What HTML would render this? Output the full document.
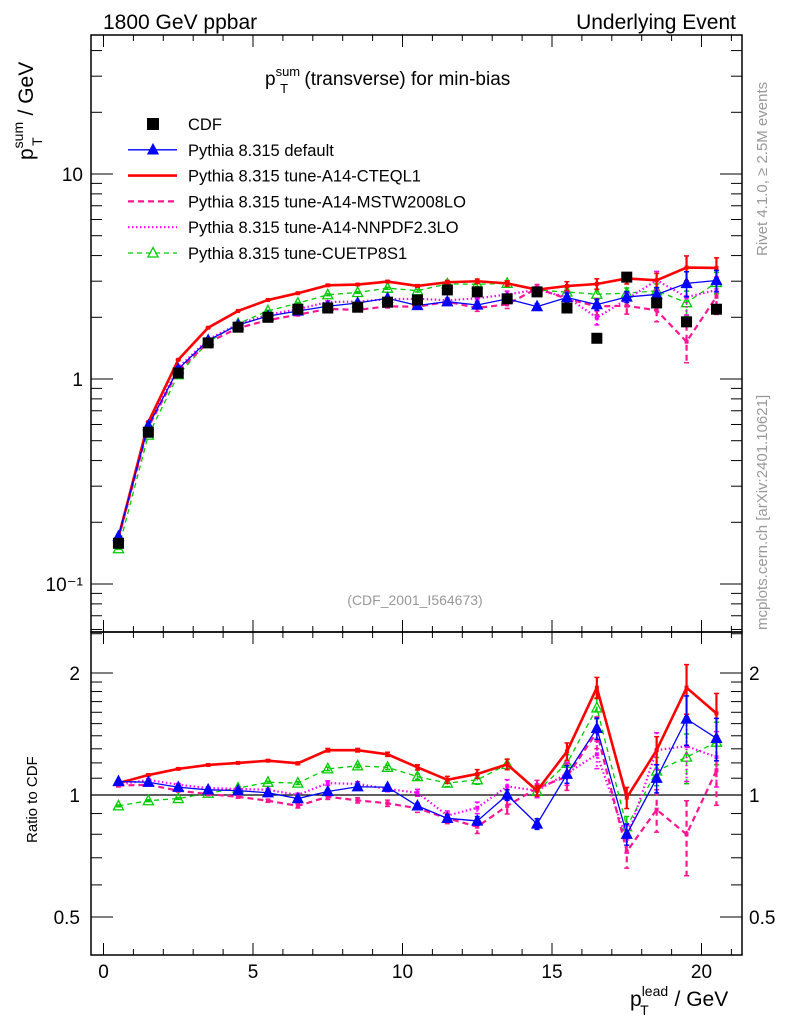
<!DOCTYPE html>
<html><head><meta charset="utf-8"><style>
body{margin:0;background:#fff;}
svg{display:block;font-family:"Liberation Sans",sans-serif;}
</style></head><body>
<svg id="c" width="786" height="1024" viewBox="0 0 786 1024" xmlns="http://www.w3.org/2000/svg"></svg>
<script>
const xCenters=[0.5,1.5,2.5,3.5,4.5,5.5,6.5,7.5,8.5,9.5,10.5,11.5,12.5,13.5,14.5,15.5,16.5,17.5,18.5,19.5,20.5];
const cdfValues=[0.158,0.55,1.07,1.50,1.79,2.0,2.19,2.22,2.24,2.37,2.43,2.72,2.66,2.46,2.66,2.22,1.58,3.14,2.35,1.90,2.19];
const ratioDefault=[1.08,1.075,1.045,1.03,1.025,1.013,0.98,1.02,1.048,1.045,0.94,0.876,0.863,1.0,0.848,1.125,1.46,0.80,1.10,1.54,1.38];
const ratioCTEQ=[1.07,1.12,1.16,1.186,1.20,1.215,1.197,1.29,1.29,1.26,1.17,1.09,1.127,1.19,1.025,1.28,1.84,0.985,1.29,1.84,1.59];
const ratioMSTW=[1.055,1.06,1.025,1.005,0.99,0.968,0.94,0.99,0.97,0.954,0.927,0.876,0.835,0.94,1.04,1.11,1.43,0.725,0.92,0.80,1.15];
const ratioNNPDF=[1.06,1.09,1.06,1.04,1.035,1.03,1.0,1.07,1.065,1.035,1.013,0.89,0.93,1.05,1.025,1.13,1.26,0.78,1.29,1.32,1.24];
const ratioCUETP=[0.94,0.968,0.98,1.01,1.04,1.075,1.07,1.16,1.18,1.17,1.11,1.07,1.09,1.19,1.02,1.197,1.64,0.835,1.146,1.24,1.35];
const relErr=[0.005,0.005,0.005,0.005,0.005,0.006,0.008,0.01,0.01,0.012,0.015,0.02,0.025,0.03,0.03,0.05,0.06,0.06,0.08,0.14,0.12];
const mainTicks=[0.1,1,10];
const mainTickLabels=["10\u207B\u00B9","1","10"];
const ratioTicks=[0.5,1,2];
const ratioTickLabels=["0.5","1","2"];
const xTicks=[0,5,10,15,20];

const NS="http://www.w3.org/2000/svg";
const svg=document.getElementById('c');
const L=91,R=742,T=35,M=632,B=955;
const X=v=>103.5+v*29.9;
const Ym=v=>379-205*Math.log10(v);
const Yr=v=>795-122*Math.log2(v);
function el(tag,attrs,parent){const e=document.createElementNS(NS,tag);for(const k in attrs)e.setAttribute(k,attrs[k]);(parent||svg).appendChild(e);return e;}
function txt(s,attrs,parent){const e=el('text',attrs,parent);e.textContent=s;return e;}

const defs=el('defs',{});
const cp1=el('clipPath',{id:'cm'},defs);el('rect',{x:L,y:T,width:R-L,height:M-T},cp1);
const cp2=el('clipPath',{id:'cr'},defs);el('rect',{x:L,y:M,width:R-L,height:B-M},cp2);

const fm=el('rect',{x:L,y:T,width:R-L,height:M-T,fill:'none',stroke:'#000','stroke-width':1.5});


const fr=el('rect',{x:L,y:M,width:R-L,height:B-M,fill:'none',stroke:'#000','stroke-width':1.5});



const gx=el('g',{stroke:'#000','stroke-width':1});


for(let v=0;v<=21;v++){const x=X(v);const len=(v%5==0)?12:6;
 [[T,T+len],[M,M-len],[M,M+len],[B,B-len]].forEach(p=>el('line',{x1:x,x2:x,y1:p[0],y2:p[1]},gx));}
xTicks.forEach(v=>{const t=txt(String(v),{x:X(v),y:978,'font-size':19,'text-anchor':'middle'});
 
 });

const gy=el('g',{stroke:'#000','stroke-width':1});


for(let d=-2;d<=1;d++){for(let k=1;k<10;k++){const v=k*Math.pow(10,d);const y=Ym(v);if(y<T||y>M)continue;
 const len=k==1?22:11;el('line',{x1:L,x2:L+len,y1:y,y2:y},gy);el('line',{x1:R,x2:R-len,y1:y,y2:y},gy);}}
mainTicks.forEach((v,i)=>{const t=txt(mainTickLabels[i],{x:83,y:Ym(v)+7,'font-size':19,'text-anchor':'end'});
 
 });
[0.4,0.5,0.6,0.7,0.8,0.9,1,1.1,1.2,1.3,1.4,1.5,1.6,1.7,1.8,1.9,2,2.5].forEach(v=>{const y=Yr(v);if(y<M||y>B)return;
 const len=(v==0.5||v==1||v==2)?22:11;el('line',{x1:L,x2:L+len,y1:y,y2:y},gy);el('line',{x1:R,x2:R-len,y1:y,y2:y},gy);});
ratioTicks.forEach((v,i)=>{
 const t=txt(ratioTickLabels[i],{x:80,y:Yr(v)+7,'font-size':19,'text-anchor':'end'});
 
 
 const t2=txt(ratioTickLabels[i],{x:749,y:Yr(v)+7,'font-size':19,'text-anchor':'start'});
 
 });
const one=el('line',{x1:L,x2:R,y1:Yr(1),y2:Yr(1),stroke:'#000','stroke-width':1.2});



const series=[
 {name:'pythia-a14-cuetp8s1',r:ratioCUETP,color:'#00cc00',w:1.3,dash:'5,4',marker:'tri-open',ef:1},
 {name:'pythia-a14-nnpdf',r:ratioNNPDF,color:'#ff00ff',w:2.2,dash:'1.5,2.5',marker:null,ef:1.3},
 {name:'pythia-a14-mstw',r:ratioMSTW,color:'#ff1493',w:2.2,dash:'6,4',marker:null,ef:1.5},
 {name:'pythia-a14-cteql1',r:ratioCTEQ,color:'#ff0000',w:2.6,dash:null,marker:null,ef:1},
 {name:'pythia-default',r:ratioDefault,color:'#0000ff',w:1.3,dash:null,marker:'tri',ef:1}];
function tri(g,x,y,c,open){el('polygon',{points:`${x},${y-5.5} ${x-5},${y+4} ${x+5},${y+4}`,fill:open?'none':c,stroke:c,'stroke-width':1.3},g);}
series.forEach(s=>{
 const vals=s.r.map((r,i)=>r*cdfValues[i]);
 [['m',vals,Ym,'cm'],['r',s.r,Yr,'cr']].forEach(([p,arr,Y,clip])=>{
  const g=el('g',{'clip-path':`url(#${clip})`});
  
  
  const pts=arr.map((v,i)=>X(xCenters[i])+','+Y(v)).join(' ');
  const a={points:pts,fill:'none',stroke:s.color,'stroke-width':s.w};if(s.dash)a['stroke-dasharray']=s.dash;
  el('polyline',a,g);
  arr.forEach((v,i)=>{const x=X(xCenters[i]);const e=relErr[i]*s.ef;
   const y1=Y(v*(1+e)),y2=Y(v*(1-e));
   const ea={x1:x,x2:x,y1:y1,y2:y2,stroke:s.color,'stroke-width':s.w>2?2.2:1.5};if(s.dash)ea['stroke-dasharray']=s.dash;
   el('line',ea,g);
   el('line',{x1:x-2.5,x2:x+2.5,y1:y1,y2:y1,stroke:s.color,'stroke-width':1.5},g);
   el('line',{x1:x-2.5,x2:x+2.5,y1:y2,y2:y2,stroke:s.color,'stroke-width':1.5},g);
   if(s.marker)tri(g,x,Y(v),s.color,s.marker=='tri-open');
   else el('rect',{x:x-2,y:Y(v)-2,width:4,height:4,fill:s.color},g);});
 });
});
const gd=el('g',{'clip-path':'url(#cm)'});


cdfValues.forEach((v,i)=>{const x=X(xCenters[i]);el('rect',{x:x-5.5,y:Ym(v)-5.5,width:11,height:11,fill:'#000'},gd);});

const lg=el('g',{});


const leg=[['CDF',null],['Pythia 8.315 default',series[4]],['Pythia 8.315 tune-A14-CTEQL1',series[3]],['Pythia 8.315 tune-A14-MSTW2008LO',series[2]],['Pythia 8.315 tune-A14-NNPDF2.3LO',series[1]],['Pythia 8.315 tune-CUETP8S1',series[0]]];
leg.forEach((e,i)=>{const y=124+i*25.8;
 const g=el('g',{},lg);
 
 
 if(!e[1]){el('rect',{x:147,y:y-6,width:12,height:12,fill:'#000'},g);}
 else{const s=e[1];const a={x1:128,x2:177,y1:y,y2:y,stroke:s.color,'stroke-width':s.w};if(s.dash)a['stroke-dasharray']=s.dash;el('line',a,g);
  if(s.marker)tri(g,153,y,s.color,s.marker=='tri-open');}
 txt(e[0],{x:188,y:y+6,'font-size':16.5},g);});

function add(s,a,name){const t=txt(s,a);return t;}
add('1800 GeV ppbar',{x:103,y:29,'font-size':21},'header-left');
add('Underlying Event',{x:736,y:29,'font-size':21,'text-anchor':'end'},'header-right');
const tt=add('',{x:265,y:85,'font-size':19},'plot-title');
tt.innerHTML='p<tspan font-size="13" dy="-9">sum</tspan><tspan font-size="13" dx="-20" dy="17">T</tspan><tspan dy="-8" dx="11"> (transverse) for min-bias</tspan>';
add('(CDF_2001_I564673)',{x:415,y:605,'font-size':14,fill:'#999','text-anchor':'middle'},'analysis-id');
const yt=add('',{x:0,y:0,'font-size':21,transform:'translate(33,160) rotate(-90)'},'y-axis-title');
yt.innerHTML='p<tspan font-size="14" dy="-10">sum</tspan><tspan font-size="14" dx="-24" dy="19">T</tspan><tspan dy="-9" dx="16"> / GeV</tspan>';
add('Ratio to CDF',{x:0,y:0,'font-size':15,transform:'translate(37,843) rotate(-90)'},'ratio-axis-title');
const xt=add('',{x:630,y:1006,'font-size':21},'x-axis-title');
xt.innerHTML='p<tspan font-size="14" dy="-10">lead</tspan><tspan font-size="14" dx="-28" dy="19">T</tspan><tspan dy="-9" dx="20"> / GeV</tspan>';
add('Rivet 4.1.0, \u2265 2.5M events',{x:0,y:0,'font-size':15,fill:'#999',transform:'translate(767,256) rotate(-90)'},'rivet-version-label');
add('mcplots.cern.ch [arXiv:2401.10621]',{x:0,y:0,'font-size':15,fill:'#999',transform:'translate(767,630) rotate(-90)'},'mcplots-label');
</script>
</body></html>
